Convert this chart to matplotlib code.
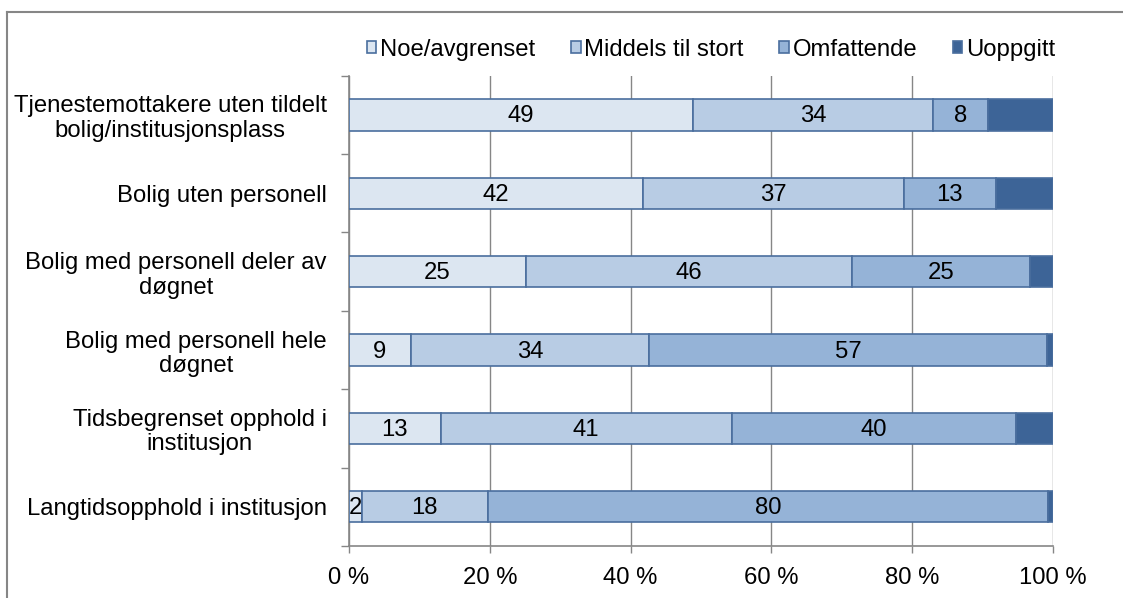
import matplotlib
matplotlib.use("Agg")
import matplotlib.pyplot as plt
from matplotlib.lines import Line2D
import numpy as np

plt.rcParams['font.family'] = ['Liberation Sans', 'DejaVu Sans']

categories = [
    "Tjenestemottakere uten tildelt\nbolig/institusjonsplass",
    "Bolig uten personell",
    "Bolig med personell deler av\ndøgnet",
    "Bolig med personell hele\ndøgnet",
    "Tidsbegrenset opphold i\ninstitusjon",
    "Langtidsopphold i institusjon",
]
series_names = ["Noe/avgrenset", "Middels til stort", "Omfattende", "Uoppgitt"]
noe = [48.9, 41.8, 25.1, 8.8, 13.0, 1.8]
middels = [34.0, 37.0, 46.4, 33.8, 41.4, 17.9]
omfattende = [7.9, 13.1, 25.2, 56.6, 40.4, 79.6]
uoppgitt = [9.2, 8.1, 3.3, 0.8, 5.2, 0.7]
labelled = [True, True, True, False]
x_ticks = [0, 20, 40, 60, 80, 100]
x_ticklabels = ["0 %", "20 %", "40 %", "60 %", "80 %", "100 %"]

colors = ["#dce6f1", "#b8cce4", "#95b3d7", "#3d6497"]
edge = "#4a6e9e"
grid_c = "#868686"
fs = 17.2

fig = plt.figure(figsize=(11.23, 5.98), dpi=100)
ax = fig.add_axes([349 / 1123, 1 - 546 / 598, (1053 - 349) / 1123, (546 - 75.7) / 598])

y = np.arange(len(categories))
series = [noe, middels, omfattende, uoppgitt]
left = np.zeros(len(categories))
handles = []
for vals, name, col, lab in zip(series, series_names, colors, labelled):
    vals = np.array(vals)
    bars = ax.barh(y, vals, left=left, height=0.4, color=col, edgecolor=edge,
                   linewidth=1.2, label=name, zorder=3)
    handles.append(bars)
    if lab:
        for yi, l, v in zip(y, left, vals):
            ax.text(l + v / 2, yi + 0.02, f"{v:.0f}", ha="center", va="center",
                    fontsize=fs, color="black", zorder=4)
    left = left + vals

ax.set_xlim(0, 100)
ax.set_ylim(len(categories) - 0.5, -0.5)

ax.set_xticks(x_ticks)
ax.set_xticklabels(x_ticklabels, fontsize=fs)
ax.tick_params(axis="x", length=5, width=1, color=grid_c, pad=10)
ax.grid(axis="x", color=grid_c, linewidth=1, zorder=0)

ax.set_yticks(np.arange(len(categories) + 1) - 0.5)
ax.set_yticklabels([])
ax.tick_params(axis="y", which="major", length=6, width=1, color=grid_c)
ax.set_yticks(y, minor=True)
ax.set_yticklabels(categories, minor=True, fontsize=fs)
ax.tick_params(axis="y", which="minor", length=0, pad=16)
for t in ax.get_yticklabels(minor=True):
    t.set_multialignment("center")
    t.set_linespacing(1.15)

for s in ["top", "right"]:
    ax.spines[s].set_visible(False)
for s in ["left", "bottom"]:
    ax.spines[s].set_color(grid_c)
    ax.spines[s].set_linewidth(1.2)

fig.legend(handles=handles, labels=series_names, loc="center",
           bbox_to_anchor=(711 / 1123, 1 - 50 / 598), ncol=4, frameon=False,
           fontsize=fs, handlelength=0.4, handleheight=0.4, handletextpad=0.15,
           columnspacing=1.5)

fig.add_artist(Line2D([7 / 1123, 7 / 1123], [0, 1 - 12 / 598], transform=fig.transFigure,
                      color=grid_c, linewidth=1.5))
fig.add_artist(Line2D([7 / 1123, 1], [1 - 12 / 598, 1 - 12 / 598], transform=fig.transFigure,
                      color=grid_c, linewidth=1.5))

fig.savefig("out.png", dpi=100)
